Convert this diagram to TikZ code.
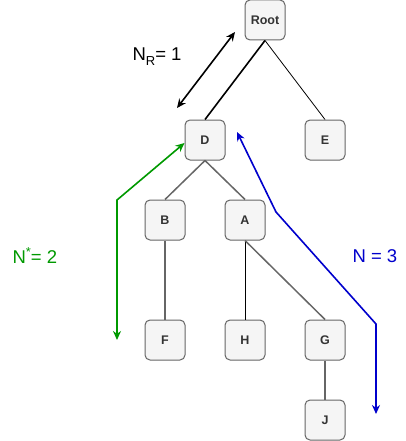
\documentclass[tikz,border=0pt]{standalone}
\usepackage{fontspec}
\setmainfont{Liberation Sans}
\usepackage{xcolor}
\usepackage{tikz}
\usetikzlibrary{arrows.meta}

\definecolor{boxfill}{HTML}{F5F5F5}
\definecolor{boxline}{HTML}{666666}
\definecolor{textgray}{HTML}{333333}
\definecolor{pathgreen}{HTML}{009900}
\definecolor{pathblue}{HTML}{0000CC}

\newcommand{\smallmark}[2]{\raisebox{#1}{\fontsize{13}{13}\selectfont #2}}

\begin{document}
\begin{tikzpicture}[x=1pt, y=-1pt,
    treenode/.style={rectangle, rounded corners=5pt, minimum size=40pt,
        inner sep=0pt, fill=boxfill, draw=boxline, line width=1pt,
        font=\fontsize{12.5}{14}\selectfont\bfseries, text=textgray},
    grayedge/.style={draw=boxline, line width=1.5pt},
    thinedge/.style={draw=black, line width=0.8pt},
    countarrow/.style={line width=1.6pt, -{Stealth[length=9pt,width=8pt]}},
    countlabel/.style={font=\fontsize{18.5}{20}\selectfont}
]
\useasboundingbox (0,0) rectangle (406,441);

% Tree nodes
\node[treenode] (Root) at (265,20) {Root};
\node[treenode] (D) at (205,140) {D};
\node[treenode] (E) at (325,140) {E};
\node[treenode] (B) at (165,220) {B};
\node[treenode] (A) at (245,220) {A};
\foreach \name/\x in {F/165, H/245, G/325}
{
    \node[treenode] (\name) at (\x,340) {\name};
}
\node[treenode] (J) at (325,420) {J};

% Tree edges
\draw[line width=1.6pt] (Root.south) -- (D.north);
\draw[thinedge] (Root.south) -- (E.north);
\draw[grayedge] (D.south) -- (B.north);
\draw[grayedge] (D.south) -- (A.north);
\draw[grayedge] (B.south) -- (F.north);
\draw[thinedge] (A.south) -- (H.north);
\draw[grayedge] (A.south) -- (G.north);
\draw[grayedge] (G.south) -- (J.north);

% Root distance
\coordinate (NR-1) at (177,108);
\coordinate (NR-2) at (235,32);
\draw[countarrow, {Stealth[length=9pt,width=8pt]}-{Stealth[length=9pt,width=8pt]}]
    (NR-1) -- (NR-2);
\node[countlabel, anchor=west] (NR) at (129,57) {N\smallmark{-5pt}{R}= 1};

% Green path
\coordinate (Green-1) at (117,200);
\coordinate (Green-2) at (117,340);
\draw[countarrow, pathgreen, {Stealth[length=9pt,width=8pt]}-{Stealth[length=9pt,width=8pt]}]
    (D.west |- 0,143) -- (Green-1) -- (Green-2);
\node[countlabel, text=pathgreen, anchor=west] (Nstar) at (9,256) {N\smallmark{7pt}{*}= 2};

% Blue path
\coordinate (Blue-1) at (237,132);
\coordinate (Blue-2) at (276,212);
\coordinate (Blue-3) at (376,324);
\coordinate (Blue-4) at (376,414);
\draw[countarrow, pathblue, {Stealth[length=9pt,width=8pt]}-{Stealth[length=9pt,width=8pt]}]
    (Blue-1) -- (Blue-2) -- (Blue-3) -- (Blue-4);
\node[countlabel, text=pathblue, anchor=west] (N) at (349,256) {N = 3};

\end{tikzpicture}
\end{document}
